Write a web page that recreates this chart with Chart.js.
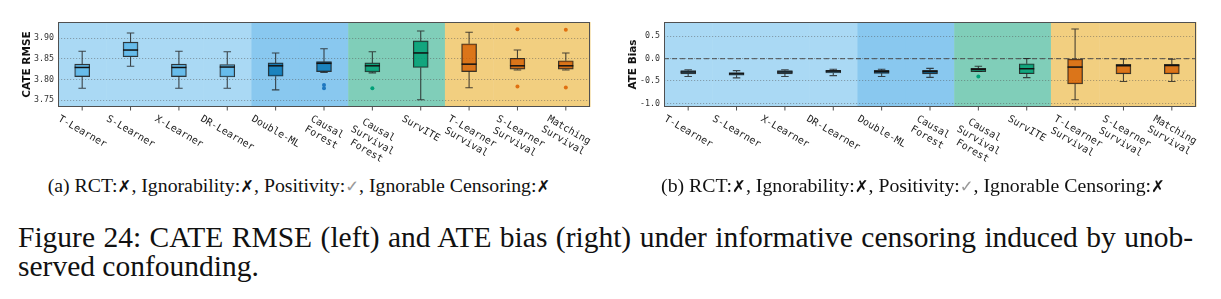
<!DOCTYPE html>
<html>
<head>
<meta charset="utf-8">
<script src="https://cdn.jsdelivr.net/npm/chart.js@4.4.0/dist/chart.umd.min.js"></script>
<style>
  body { margin:0; background:#fff; width:1221px; height:299px; overflow:hidden; position:relative; font-family:"Liberation Serif","Times New Roman",serif; }
  canvas { position:absolute; top:0; }
  .sub { position:absolute; top:174px; width:610px; text-align:center; font-size:19.8px; line-height:23px; color:#111; white-space:nowrap; }
  .mk { font-family:"DejaVu Sans"; font-weight:bold; font-style:italic; font-size:16.5px; }
  .ok { font-family:"DejaVu Sans"; color:#999; font-size:16.5px; }
  .fig { position:absolute; left:18px; width:1175px; font-size:29.5px; line-height:30px; color:#111; white-space:nowrap; }
</style>
</head>
<body>
<canvas id="left" width="610" height="170" style="left:0"></canvas>
<canvas id="right" width="610" height="170" style="left:606px"></canvas>
<div class="sub" style="left:-6px">(a) RCT:<span class="mk">✗</span>, Ignorability:<span class="mk">✗</span>, Positivity:<span class="ok">✓</span>, Ignorable Censoring:<span class="mk">✗</span></div>
<div class="sub" style="left:608px">(b) RCT:<span class="mk">✗</span>, Ignorability:<span class="mk">✗</span>, Positivity:<span class="ok">✓</span>, Ignorable Censoring:<span class="mk">✗</span></div>
<div class="fig" style="top:222px;text-align:justify;text-align-last:justify">Figure 24: CATE RMSE (left) and ATE bias (right) under informative censoring induced by unob-</div>
<div class="fig" style="top:251px">served confounding.</div>
<script>
const categories = ['T-Learner', 'S-Learner', 'X-Learner', 'DR-Learner', 'Double-ML', 'Causal\nForest',
  'Causal\nSurvival\nForest', 'SurvITE', 'T-Learner\nSurvival', 'S-Learner\nSurvival', 'Matching\nSurvival'];
const methodGroup = [0, 0, 0, 0, 1, 1, 2, 2, 3, 3, 3];

// CATE RMSE (left)
const rmseMin = [3.779, 3.832, 3.779, 3.779, 3.775, 3.817, 3.816, 3.751, 3.780, 3.823, 3.823];
const rmseQ1 = [3.807, 3.855, 3.807, 3.806, 3.808, 3.819, 3.818, 3.829, 3.819, 3.825, 3.825];
const rmseMed = [3.829, 3.871, 3.829, 3.830, 3.833, 3.839, 3.833, 3.864, 3.837, 3.833, 3.833];
const rmseQ3 = [3.837, 3.890, 3.837, 3.836, 3.840, 3.843, 3.840, 3.893, 3.886, 3.851, 3.845];
const rmseMax = [3.868, 3.912, 3.868, 3.867, 3.864, 3.874, 3.867, 3.917, 3.914, 3.871, 3.864];
const rmseOut = [[], [], [], [], [], [3.787, 3.779], [3.779], [], [], [3.921, 3.783], [3.920, 3.781]];

// ATE bias (right)
const biasMin = [-0.40, -0.43, -0.40, -0.38, -0.40, -0.42, -0.29, -0.425, -0.92, -0.51, -0.51];
const biasQ1 = [-0.34, -0.37, -0.34, -0.32, -0.33, -0.34, -0.29, -0.337, -0.565, -0.34, -0.34];
const biasMed = [-0.30, -0.34, -0.30, -0.28, -0.29, -0.29, -0.24, -0.227, -0.19, -0.16, -0.155];
const biasQ3 = [-0.27, -0.31, -0.27, -0.26, -0.26, -0.26, -0.22, -0.117, 0.0, -0.13, -0.13];
const biasMax = [-0.25, -0.27, -0.25, -0.24, -0.24, -0.22, -0.17, 0.0, 0.66, -0.01, -0.015];
const biasOut = [[], [], [], [], [], [], [-0.40], [], [], [], []];

const bandColors = ['#AAD9F4', '#89C8EF', '#80CEB9', '#F2CF80'];
const boxColors = ['rgba(86,180,233,0.8)', 'rgba(0,114,178,0.8)', 'rgba(0,158,115,0.85)', 'rgba(213,94,0,0.8)'];
const dotColors = ['#56B4E9', '#1f78c0', '#00a077', '#e07010'];

const boxPlugin = {
  id: 'boxes',
  beforeDraw(chart) {
    const {ctx, chartArea: a, scales: {x}} = chart;
    const half = (x.getPixelForValue(1) - x.getPixelForValue(0)) / 2;
    ctx.save();
    methodGroup.forEach((g, i) => {
      const c = x.getPixelForValue(i);
      ctx.fillStyle = bandColors[g];
      ctx.fillRect(c - half, a.top, half * 2 + 0.5, a.bottom - a.top);
    });
    ctx.restore();
  },
  beforeDatasetsDraw(chart, args, o) {
    if (!o.zero) return;
    const {ctx, chartArea: a, scales: {y}} = chart;
    const py = y.getPixelForValue(0);
    ctx.save();
    ctx.strokeStyle = 'rgba(70,70,70,0.75)';
    ctx.lineWidth = 1.2;
    ctx.setLineDash([5, 3]);
    ctx.beginPath(); ctx.moveTo(a.left, py); ctx.lineTo(a.right, py); ctx.stroke();
    ctx.restore();
  },
  afterDatasetsDraw(chart, args, o) {
    const {ctx, scales: {x, y}} = chart;
    const s = o.stats;
    ctx.save();
    categories.forEach((c, i) => {
      const cx = x.getPixelForValue(i);
      ctx.strokeStyle = 'rgba(30,30,30,0.8)';
      ctx.lineWidth = 1.1;
      ctx.beginPath();
      ctx.moveTo(cx, y.getPixelForValue(s.q3[i])); ctx.lineTo(cx, y.getPixelForValue(s.max[i]));
      ctx.moveTo(cx, y.getPixelForValue(s.q1[i])); ctx.lineTo(cx, y.getPixelForValue(s.min[i]));
      ctx.moveTo(cx - 3.75, y.getPixelForValue(s.max[i])); ctx.lineTo(cx + 3.75, y.getPixelForValue(s.max[i]));
      ctx.moveTo(cx - 3.75, y.getPixelForValue(s.min[i])); ctx.lineTo(cx + 3.75, y.getPixelForValue(s.min[i]));
      ctx.stroke();
      ctx.strokeStyle = '#111';
      ctx.lineWidth = 1.5;
      ctx.beginPath();
      ctx.moveTo(cx - 7.5, y.getPixelForValue(s.med[i])); ctx.lineTo(cx + 7.5, y.getPixelForValue(s.med[i]));
      ctx.stroke();
    });
    ctx.restore();
  },
  afterDraw(chart) {
    const {ctx, chartArea: a, scales: {x}} = chart;
    ctx.save();
    ctx.strokeStyle = '#505050';
    ctx.lineWidth = 1;
    ctx.strokeRect(a.left + 0.5, a.top + 0.5, a.right - a.left - 1, a.bottom - a.top - 1);
    ctx.font = '10px "DejaVu Sans Mono"';
    ctx.fillStyle = '#222';
    const th = 30 * Math.PI / 180, cs = Math.cos(th), sn = Math.sin(th), lh = 12;
    categories.forEach((lab, i) => {
      const cx = x.getPixelForValue(i);
      ctx.beginPath(); ctx.moveTo(cx, a.bottom); ctx.lineTo(cx, a.bottom + 3.5); ctx.stroke();
      const lines = lab.split('\n');
      const w = Math.max(...lines.map(l => ctx.measureText(l).width));
      const h = lines.length * lh;
      ctx.save();
      ctx.translate(cx - (w * cs - h * sn) / 2, a.bottom + 6);
      ctx.rotate(th);
      ctx.textAlign = 'center';
      ctx.textBaseline = 'middle';
      lines.forEach((l, k) => ctx.fillText(l, w / 2, lh * (k + 0.5)));
      ctx.restore();
    });
    ctx.restore();
  }
};

function makeChart(id, st, outliers, yMin, yMax, step, dec, title, zero) {
  const pts = [], ptCol = [];
  outliers.forEach((arr, i) => arr.forEach(v => {
    pts.push({x: categories[i], y: v});
    ptCol.push(dotColors[methodGroup[i]]);
  }));
  return new Chart(document.getElementById(id), {
    type: 'bar',
    data: {
      labels: categories,
      datasets: [{
        data: st.q1.map((v, i) => [v, st.q3[i]]),
        backgroundColor: methodGroup.map(g => boxColors[g]),
        borderColor: 'rgba(25,25,25,0.85)',
        borderWidth: 1.1,
        borderSkipped: false,
        barThickness: 15
      }, {
        type: 'line',
        data: pts,
        showLine: false,
        pointRadius: 2,
        pointBorderWidth: 0,
        pointBackgroundColor: ptCol
      }]
    },
    options: {
      responsive: false,
      animation: false,
      layout: {padding: {top: 22, right: 20}},
      plugins: {legend: {display: false}, tooltip: {enabled: false}, boxes: {stats: st, zero: zero}},
      scales: {
        x: {
          afterFit: s => { s.height = 63; },
          ticks: {display: false},
          grid: {display: false},
          border: {display: false}
        },
        y: {
          min: yMin, max: yMax,
          afterFit: s => { s.width = 58; },
          ticks: {stepSize: step, includeBounds: false, padding: 4, color: '#333',
            font: {family: 'DejaVu Sans Mono', size: 8.3}, callback: v => v.toFixed(dec)},
          grid: {color: 'rgba(80,80,80,0.55)', lineWidth: 0.8, drawTicks: false},
          border: {display: false, dash: [1.2, 1.8]},
          title: {display: true, text: title, color: '#111', padding: {top: 21, bottom: 0},
            font: {family: 'DejaVu Sans', weight: 'bold', size: 10.5}}
        }
      }
    },
    plugins: [boxPlugin]
  });
}

makeChart('left', {min: rmseMin, q1: rmseQ1, med: rmseMed, q3: rmseQ3, max: rmseMax}, rmseOut,
  3.7337, 3.9386, 0.05, 2, 'CATE RMSE', false);
makeChart('right', {min: biasMin, q1: biasQ1, med: biasMed, q3: biasQ3, max: biasMax}, biasOut,
  -1.08, 0.815, 0.5, 1, 'ATE Bias', true);
</script>
</body>
</html>
